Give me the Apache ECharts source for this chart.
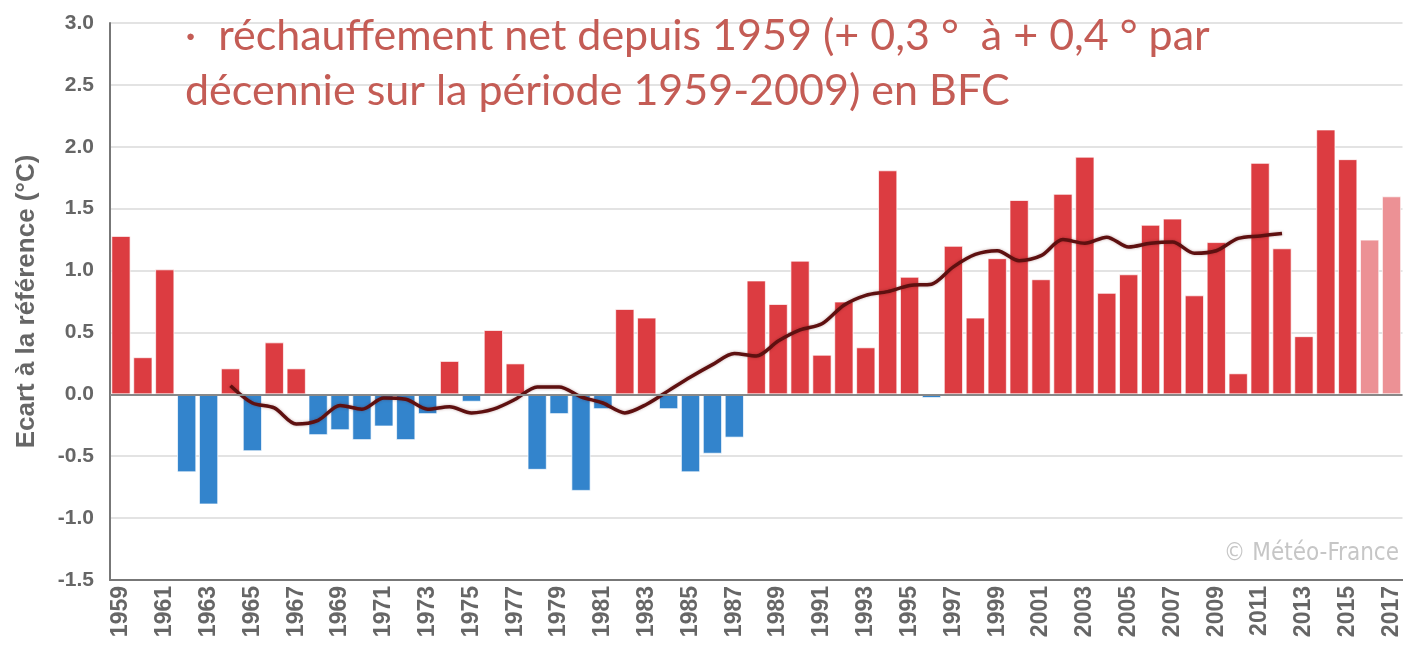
<!DOCTYPE html>
<html>
<head>
<meta charset="utf-8">
<script src="https://cdn.jsdelivr.net/npm/echarts@6/dist/echarts.min.js"></script>
<style>
    html, body { margin: 0; padding: 0; background: #fff; }
    #chart { width: 1403px; height: 647px; }
</style>
</head>
<body>
<div id="chart"></div>
<script>
// années
const years = [
    '1959', '1960', '1961', '1962', '1963', '1964', '1965', '1966', '1967', '1968',
    '1969', '1970', '1971', '1972', '1973', '1974', '1975', '1976', '1977', '1978',
    '1979', '1980', '1981', '1982', '1983', '1984', '1985', '1986', '1987', '1988',
    '1989', '1990', '1991', '1992', '1993', '1994', '1995', '1996', '1997', '1998',
    '1999', '2000', '2001', '2002', '2003', '2004', '2005', '2006', '2007', '2008',
    '2009', '2010', '2011', '2012', '2013', '2014', '2015', '2016', '2017'
]
// écart annuel à la référence (°C)
const anomalies = [
    1.28, 0.30, 1.01, -0.63, -0.89, 0.21, -0.46, 0.42, 0.21, -0.33,
    -0.29, -0.37, -0.26, -0.37, -0.16, 0.27, -0.06, 0.52, 0.25, -0.61,
    -0.16, -0.78, -0.12, 0.69, 0.62, -0.12, -0.63, -0.48, -0.35, 0.92,
    0.73, 1.08, 0.32, 0.75, 0.38, 1.81, 0.95, -0.03, 1.20, 0.62,
    1.10, 1.57, 0.93, 1.62, 1.92, 0.82, 0.97, 1.37, 1.42, 0.80,
    1.23, 0.17, 1.87, 1.18, 0.47, 2.14, 1.90, 1.25, 1.60
]
// moyenne glissante (courbe)
const movingAvg = [
    null, null, null, null, null, 0.07, -0.07, -0.11, -0.24, -0.21,
    -0.09, -0.12, -0.03, -0.04, -0.12, -0.10, -0.15, -0.12, -0.04, 0.06,
    0.06, -0.02, -0.07, -0.15, -0.08, 0.03, 0.14, 0.24, 0.33, 0.31,
    0.43, 0.52, 0.57, 0.72, 0.80, 0.83, 0.88, 0.89, 1.03, 1.13,
    1.16, 1.08, 1.12, 1.25, 1.22, 1.27, 1.19, 1.22, 1.23, 1.14,
    1.16, 1.26, 1.28, 1.30, null, null, null, null, null
]
// années provisoires (barres claires)
const provisional = ['2016', '2017']

const chart = echarts.init(document.getElementById('chart'))

const option = {
    animation: false,
    grid: {
        left: 110,
        right: -4,
        top: 23,
        bottom: 67
    },
    // texte d'annotation + copyright
    graphic: [
        {
            type: 'text',
            left: 185,
            top: 9,
            z: 10,
            style: {
                text: '·  réchauffement net depuis 1959 (+ 0,3 °  à + 0,4 ° par\ndécennie sur la période 1959-2009) en BFC',
                font: '43px Lato',
                lineHeight: 55,
                fill: '#c45c55'
            }
        },
        {
            type: 'text',
            right: 4,
            top: 542,
            style: {
                text: '© Météo-France',
                font: '24px "Liberation Sans Narrow", "DejaVu Sans Condensed", "Liberation Sans"',
                fill: '#c6c6c6'
            }
        }
    ],
    xAxis: {
        type: 'category',
        data: years,
        axisLine: { onZero: false, lineStyle: { color: '#777', width: 2 } },
        axisTick: { show: false },
        axisLabel: {
            interval: 1,
            rotate: 90,
            margin: 6,
            color: '#666',
            fontWeight: 'bold',
            fontSize: 23,
            fontFamily: 'Liberation Sans'
        }
    },
    yAxis: {
        type: 'value',
        min: -1.5,
        max: 3.0,
        interval: 0.5,
        name: 'Ecart à la référence (°C)',
        nameLocation: 'middle',
        nameGap: 70,
        nameTextStyle: {
            color: '#666',
            fontWeight: 'bold',
            fontSize: 26,
            fontFamily: 'Liberation Sans'
        },
        axisLine: { show: true, lineStyle: { color: '#777', width: 2 } },
        axisTick: { show: false },
        axisLabel: {
            margin: 16,
            color: '#666',
            fontWeight: 'bold',
            fontSize: 21,
            fontFamily: 'Liberation Sans',
            formatter: v => v.toFixed(1)
        },
        splitLine: { lineStyle: { color: '#e3e3e3', width: 2 } }
    },
    series: [
        {
            type: 'bar',
            data: anomalies,
            barCategoryGap: '12%',
            itemStyle: {
                borderColor: 'rgba(255,255,255,0.7)',
                borderWidth: 1,
                color: function (p) {
                    if (provisional.indexOf(years[p.dataIndex]) >= 0) return '#ec9195'
                    return p.value >= 0 ? '#dc3c41' : '#3384cc'
                }
            },
            markLine: {
                silent: true,
                symbol: 'none',
                label: { show: false },
                lineStyle: { color: '#888', width: 2, type: 'solid' },
                data: [{ yAxis: 0 }]
            },
            z: 2
        },
        {
            type: 'line',
            data: movingAvg,
            smooth: 0.3,
            showSymbol: false,
            connectNulls: false,
            lineStyle: {
                color: '#5e1010',
                width: 3.5,
                shadowColor: 'rgba(90,10,10,0.35)',
                shadowBlur: 3
            },
            z: 3
        }
    ]
}

chart.setOption(option)
</script>
</body>
</html>
